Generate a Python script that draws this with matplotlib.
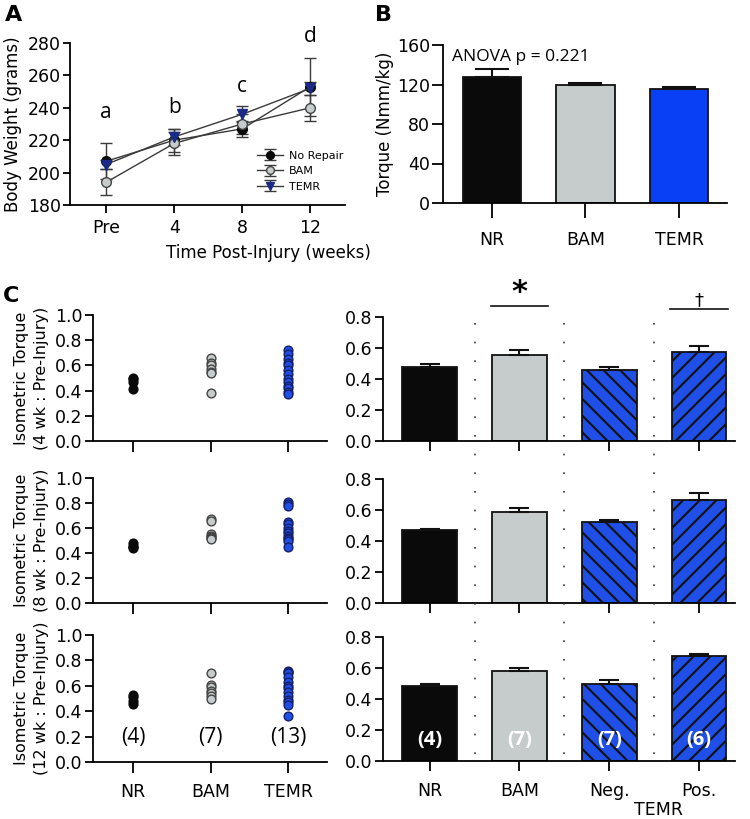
import numpy as np
import matplotlib.pyplot as plt
from matplotlib.lines import Line2D

plt.rcParams['font.family'] = 'DejaVu Sans'
plt.rcParams['hatch.linewidth'] = 1.5
plt.rcParams['axes.linewidth'] = 1.3

W, H = 750, 819
CAL = 'Open Sans'

# ---- panel A: body weight
weeks = ['Pre', '4', '8', '12']
nr_bw = [207, 220, 227, 253]
nr_bw_err = [11, 7, 5, 18]
bam_bw = [194, 218, 230, 240]
bam_bw_err = [8, 7, 6, 8]
temr_bw = [205, 222, 236, 252]
temr_bw_err = [3, 5, 5, 4]
sig_letters = ['a', 'b', 'c', 'd']
sig_y = [237, 240, 253, 284]

# ---- panel B: torque
groups_b = ['NR', 'BAM', 'TEMR']
torque = [128, 119, 115]
torque_err = [8, 3, 2]

# ---- panel C: individual ratios (4, 8, 12 wk)
groups_c = ['NR', 'BAM', 'TEMR']
nr_pts = [[0.50, 0.49, 0.47, 0.41],
          [0.48, 0.46, 0.45, 0.44],
          [0.53, 0.51, 0.48, 0.46]]
bam_pts = [[0.66, 0.62, 0.60, 0.57, 0.55, 0.54, 0.38],
           [0.67, 0.66, 0.55, 0.54, 0.53, 0.52, 0.51],
           [0.70, 0.61, 0.59, 0.56, 0.54, 0.52, 0.50]]
temr_pts = [[0.72, 0.69, 0.65, 0.62, 0.60, 0.56, 0.53, 0.49, 0.47, 0.44, 0.42, 0.39, 0.37],
            [0.81, 0.79, 0.78, 0.65, 0.63, 0.60, 0.58, 0.56, 0.54, 0.52, 0.51, 0.50, 0.45],
            [0.72, 0.71, 0.70, 0.67, 0.63, 0.60, 0.58, 0.55, 0.52, 0.49, 0.47, 0.45, 0.36]]
n_left = ['(4)', '(7)', '(13)']
row_weeks = ['4', '8', '12']

# ---- panel C: group means
groups_bar = ['NR', 'BAM', 'Neg.', 'Pos.']
bar_means = [[0.475, 0.555, 0.458, 0.576],
             [0.470, 0.590, 0.520, 0.667],
             [0.486, 0.579, 0.495, 0.677]]
bar_errs = [[0.020, 0.030, 0.022, 0.040],
            [0.007, 0.025, 0.017, 0.040],
            [0.014, 0.019, 0.030, 0.016]]
n_right = ['(4)', '(7)', '(7)', '(6)']

black = '#0a0a0a'
gray = '#c6cccb'
blue_b = '#0a40f5'
blue_c = '#1f4fe6'

fig = plt.figure(figsize=(7.5, 8.19), dpi=100)


def add_ax(l, t, r, b):
    ax = fig.add_axes([l / W, 1 - b / H, (r - l) / W, (b - t) / H])
    ax.spines['top'].set_visible(False)
    ax.spines['right'].set_visible(False)
    ax.tick_params(direction='out', width=1.3, labelsize=12.5)
    ax.tick_params(axis='y', length=5, pad=1.5)
    return ax


# ---------------- A
axA = add_ax(70, 43, 345, 205)
x = np.arange(len(weeks))
lc = '#3a3a3a'
axA.errorbar(x, nr_bw, yerr=nr_bw_err, color=lc, lw=1, marker='o', ms=7,
             mfc=black, mec=black, capsize=4.5, elinewidth=1, label='No Repair')
axA.errorbar(x, bam_bw, yerr=bam_bw_err, color=lc, lw=1, marker='o', ms=7,
             mfc=gray, mec='#444444', capsize=4.5, elinewidth=1, label='BAM')
axA.errorbar(x, temr_bw, yerr=temr_bw_err, color=lc, lw=1, marker='v', ms=7,
             mfc='#1a2a85', mec='#1a2a85', capsize=4.5, elinewidth=1, label='TEMR')
for xi, s, yv in zip(x, sig_letters, sig_y):
    axA.text(xi, yv, s, ha='center', va='center', fontsize=15, family=CAL)
axA.set_xlim(-0.53, 3.51)
axA.set_ylim(180, 280)
axA.set_yticks(range(180, 281, 20))
axA.set_xticks(x)
axA.set_xticklabels(weeks)
axA.tick_params(axis='x', length=6, pad=4)
axA.set_ylabel('Body Weight (grams)', fontsize=12, labelpad=4)
axA.set_xlabel('Time Post-Injury (weeks)', fontsize=12, labelpad=0)
axA.xaxis.set_label_coords(0.72, -0.24)
leg = axA.legend(loc='lower right', bbox_to_anchor=(1.03, 0.02), frameon=False,
                 fontsize=8, handlelength=2.4, labelspacing=0.5, handletextpad=0.5,
                 markerscale=0.8)

# ---------------- B
axB = add_ax(443, 45, 727, 203)
xb = np.arange(len(groups_b))
axB.bar(xb, torque, width=0.62, color=[black, gray, blue_b], edgecolor='#111111',
        linewidth=1.3, yerr=[[0] * 3, torque_err], capsize=12,
        error_kw=dict(elinewidth=1.5, capthick=1.5, ecolor='#111111'))
axB.set_xlim(-0.52, 2.51)
axB.set_ylim(0, 160)
axB.set_yticks(range(0, 161, 40))
axB.set_xticks(xb)
axB.set_xticklabels(groups_b)
axB.tick_params(axis='x', length=11, pad=9)
axB.tick_params(axis='y', length=8)
axB.set_ylabel('Torque (Nmm/kg)', fontsize=12, labelpad=2)
axB.text(-0.42, 148, 'ANOVA p = 0.221', fontsize=12.5, family=CAL, va='center')

# ---------------- C left (scatter)
left_rows = [(315, 441), (478, 603), (635, 762)]
right_rows = [(317, 441), (479, 603), (637, 761)]
xc = np.arange(len(groups_c))
for r, (t, b) in enumerate(left_rows):
    ax = add_ax(93, t, 327, b)
    ax.plot([0] * len(nr_pts[r]), nr_pts[r], 'o', ms=6.3, mfc=black, mec=black)
    ax.plot([1] * len(bam_pts[r]), bam_pts[r], 'o', ms=6.3, mfc=gray, mec='#444444', mew=1)
    ax.plot([2] * len(temr_pts[r]), temr_pts[r], 'o', ms=6.3, mfc=blue_c, mec='#14206a', mew=1)
    ax.set_xlim(-0.52, 2.5)
    ax.set_ylim(0, 1.0)
    ax.set_yticks(np.arange(0, 1.01, 0.2))
    ax.set_yticklabels(['%.1f' % v for v in np.arange(0, 1.01, 0.2)])
    ax.set_xticks(xc)
    ax.tick_params(axis='y', length=6)
    ax.tick_params(axis='x', length=8, pad=7)
    ax.set_ylabel('Isometric Torque\n(%s wk : Pre-Injury)' % row_weeks[r],
                  fontsize=11.5, labelpad=4, linespacing=1.45)
    if r == 2:
        ax.set_xticklabels(groups_c)
        for xi, s in zip(xc, n_left):
            ax.text(xi, 0.19, s, ha='center', va='center', fontsize=15, family=CAL)
    else:
        ax.set_xticklabels([])

# ---------------- C right (bars)
xr = np.arange(len(groups_bar))
bar_axes = []
for r, (t, b) in enumerate(right_rows):
    ax = add_ax(383, t, 735, b)
    bars = ax.bar(xr, bar_means[r], width=0.61, color=[black, gray, blue_c, blue_c],
                  edgecolor='#111111', linewidth=1.3,
                  yerr=[[0] * 4, bar_errs[r]], capsize=7,
                  error_kw=dict(elinewidth=1.5, capthick=1.5, ecolor='#111111'))
    bars[2].set_hatch('\\\\')
    bars[3].set_hatch('//')
    ax.set_xlim(-0.52, 3.4)
    ax.set_ylim(0, 0.8)
    ax.set_yticks(np.arange(0, 0.81, 0.2))
    ax.set_yticklabels(['%.1f' % v for v in np.arange(0, 0.81, 0.2)])
    ax.set_xticks(xr)
    ax.tick_params(axis='y', length=6)
    ax.tick_params(axis='x', length=7, pad=8)
    if r == 2:
        ax.set_xticklabels(groups_bar)
        for xi, s in zip(xr, n_right):
            ax.text(xi, 0.135, s, ha='center', va='center', fontsize=14.5,
                    family=CAL, weight='bold', color='white')
    else:
        ax.set_xticklabels([])
    bar_axes.append(ax)

# significance marks on the 4 wk row
ax1 = bar_axes[0]
ax1.plot([0.68, 1.32], [0.87, 0.87], color='#111111', lw=1.2, clip_on=False)
ax1.text(1, 0.955, '*', ha='center', va='center', fontsize=22, weight='bold')
ax1.plot([2.68, 3.32], [0.85, 0.85], color='#111111', lw=1.2, clip_on=False)
ax1.text(3, 0.85, '\u2020', ha='center', va='bottom', fontsize=13)

# dotted group separators spanning the three bar rows
inv = fig.transFigure.inverted()
for xs in [0.5, 1.5, 2.5]:
    xf = inv.transform(bar_axes[0].transData.transform((xs, 0)))[0]
    fig.add_artist(Line2D([xf, xf], [1 - 323 / H, 1 - 768 / H], color='#333333',
                          lw=1.2, linestyle=(0, (1, 10.2))))

fig.text(658 / W, 1 - 810 / H, 'TEMR', ha='center', va='center', fontsize=12.5)

# panel letters
fig.text(5 / W, 1 - 15 / H, 'A', fontsize=16, weight='bold', va='center')
fig.text(375 / W, 1 - 15 / H, 'B', fontsize=16, weight='bold', va='center')
fig.text(3 / W, 1 - 296 / H, 'C', fontsize=16, weight='bold', va='center')

fig.savefig('out.png', dpi=100)
